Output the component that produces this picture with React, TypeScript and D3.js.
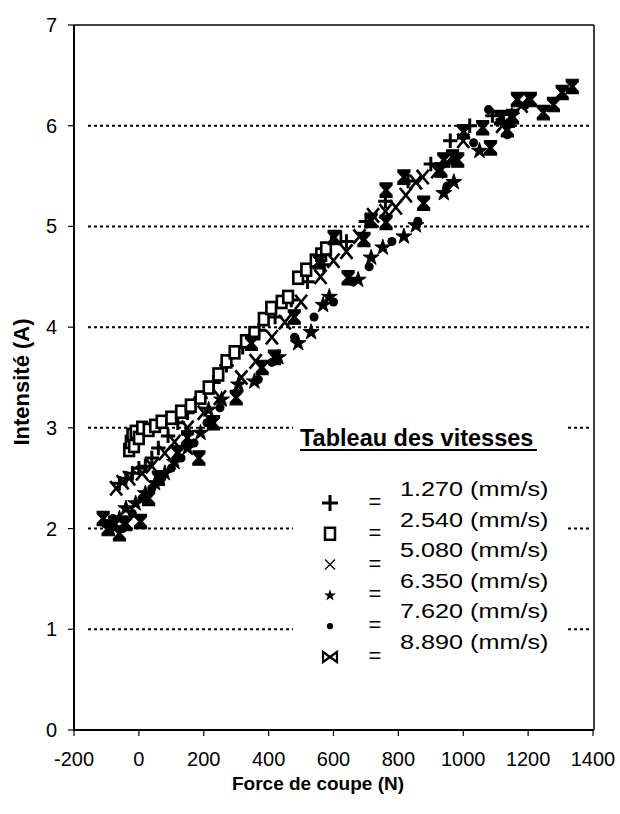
import React from "react";
import * as d3 from "d3";

const xTicks = [-200, 0, 200, 400, 600, 800, 1000, 1200, 1400];
const yTicks = [0, 1, 2, 3, 4, 5, 6, 7];
const gridValues = [1, 2, 3, 4, 5, 6];

const speedLabels = ["1.270 (mm/s)", "2.540 (mm/s)", "5.080 (mm/s)", "6.350 (mm/s)", "7.620 (mm/s)", "8.890 (mm/s)"];
const markerKinds = ["plus", "square", "cross", "star", "dot", "hourglass"];

// [Force (N), Intensité (A)]
const s1270: [number, number][] = [
  [-60, 2.45], [-40, 2.5], [-20, 2.55], [0, 2.6], [20, 2.62], [40, 2.7], [60, 2.8], [90, 2.92], [120, 3.05],
  [150, 3.15], [190, 3.3], [230, 3.45], [270, 3.62], [320, 3.8], [370, 3.97], [420, 4.1], [470, 4.27],
  [520, 4.45], [570, 4.62], [640, 4.85], [700, 5.05], [760, 5.25], [830, 5.45], [900, 5.62], [960, 5.85],
  [1020, 6.0], [1090, 6.1],
];
const s2540: [number, number][] = [
  [-30, 2.78], [-25, 2.86], [-20, 2.93], [-15, 2.82], [-10, 2.96], [0, 2.9], [10, 3.0], [30, 2.98], [50, 3.02],
  [70, 3.06], [100, 3.1], [130, 3.16], [160, 3.22], [190, 3.3], [215, 3.4], [245, 3.53], [270, 3.66],
  [295, 3.75], [330, 3.86], [356, 3.94], [385, 4.08], [408, 4.19], [440, 4.25], [460, 4.3], [491, 4.49],
  [516, 4.57], [545, 4.66], [562, 4.72], [577, 4.78], [608, 4.89], [1140, 6.05],
];
const s5080: [number, number][] = [
  [-70, 2.4], [-50, 2.46], [-30, 2.5], [10, 2.55], [40, 2.62], [80, 2.75], [110, 2.86], [150, 3.0], [200, 3.15],
  [250, 3.3], [316, 3.5], [360, 3.66], [410, 3.9], [450, 4.05], [500, 4.25], [560, 4.5], [600, 4.66],
  [640, 4.75], [680, 4.9], [722, 5.11], [760, 5.15], [792, 5.19], [823, 5.31], [854, 5.44], [875, 5.49],
  [920, 5.55], [1000, 5.85], [1120, 6.0], [1180, 6.2],
];
const s6350: [number, number][] = [
  [-90, 2.0], [-60, 2.1], [-40, 2.2], [-10, 2.25], [20, 2.35], [50, 2.45], [80, 2.55], [110, 2.66], [150, 2.8],
  [190, 2.95], [215, 3.18], [255, 3.28], [307, 3.43], [356, 3.46], [430, 3.7], [491, 3.84], [531, 3.95],
  [568, 4.22], [587, 4.3], [676, 4.47], [716, 4.69], [752, 4.79], [817, 4.9], [854, 5.01], [940, 5.33],
  [971, 5.44], [1050, 5.75], [1150, 6.1],
];
const s7620: [number, number][] = [
  [-100, 2.05], [-80, 2.1], [-50, 2.0], [-20, 2.15], [10, 2.3], [40, 2.4], [70, 2.5], [100, 2.6], [130, 2.7],
  [170, 2.85], [210, 3.05], [250, 3.2], [300, 3.35], [368, 3.48], [410, 3.65], [480, 3.9], [540, 4.1],
  [600, 4.25], [660, 4.45], [710, 4.6], [780, 4.85], [860, 5.05], [950, 5.4], [1032, 5.83], [1078, 6.16],
  [1136, 5.91], [1190, 6.2],
];
const s8890: [number, number][] = [
  [-110, 2.1], [-95, 2.0], [-75, 2.05], [-60, 1.95], [-40, 2.05], [5, 2.07], [30, 2.3], [60, 2.5], [120, 2.75],
  [150, 2.9], [185, 2.7], [230, 3.05], [300, 3.3], [347, 3.84], [380, 3.6], [418, 3.7], [479, 4.1], [556, 4.65],
  [602, 4.89], [645, 4.49], [694, 4.87], [716, 5.06], [762, 5.04], [762, 5.36], [817, 5.49], [878, 5.23],
  [931, 5.56], [940, 5.66], [967, 5.69], [983, 5.66], [1001, 5.94], [1060, 5.98], [1084, 5.78], [1115, 6.08],
  [1136, 5.96], [1152, 6.09], [1167, 6.26], [1207, 6.26], [1247, 6.13], [1278, 6.21], [1305, 6.33], [1336, 6.39],
];
const seriesData = [s1270, s2540, s5080, s6350, s7620, s8890];

const FONT = "'Liberation Sans', Arial, Helvetica, sans-serif";

function Marker({ kind, x, y, k = 1.2 }: { kind: string; x: number; y: number; k?: number }) {
  const t = `translate(${x},${y}) scale(${k})`;
  switch (kind) {
    case "plus":
      return <path transform={t} d="M-6,0H6M0,-6V6" stroke="#000" strokeWidth={2.5} fill="none" />;
    case "square":
      return <rect transform={t} x={-4} y={-5} width={8} height={10} stroke="#000" strokeWidth={2.2} fill="#fff" />;
    case "cross":
      return <path transform={t} d="M-5,-6L5,6M5,-6L-5,6" stroke="#000" strokeWidth={2.2} fill="none" />;
    case "star":
      return <path transform={t} d={d3.symbol(d3.symbolStar, 55)() as string} fill="#000" stroke="#000" strokeWidth={0.8} />;
    case "dot":
      return <path transform={t} d={d3.symbol(d3.symbolCircle, 45)() as string} fill="#000" />;
    default:
      return <path transform={t} d="M-5,-6H5V-4L1.2,0L5,4V6H-5V4L-1.2,0L-5,-4Z" fill="#000" stroke="#000" strokeWidth={1} />;
  }
}

export default function App() {
  const x = d3.scaleLinear().domain([-200, 1400]).range([74, 593]);
  const y = d3.scaleLinear().domain([0, 7]).range([730, 25]);
  const legendTextY = (i: number) => 489 + i * 30.6;
  const legendSymY = (i: number) => 503 + i * 30.8;

  return (
    <svg width={620} height={814} style={{ position: "absolute", left: 0, top: 0, background: "#fff" }} fontFamily={FONT}>
      <rect width={620} height={814} fill="#fff" />
      {/* gridlines */}
      {gridValues.map((v) => (
        <line key={v} x1={88} x2={592} y1={y(v)} y2={y(v)} stroke="#000" strokeWidth={2} strokeDasharray="3,3" />
      ))}
      {/* frame */}
      <line x1={74} x2={594} y1={y(7)} y2={y(7)} stroke="#000" strokeWidth={1.5} />
      <line x1={594} x2={594} y1={y(7)} y2={y(0)} stroke="#000" strokeWidth={1.5} />
      <line x1={74} x2={74} y1={y(7)} y2={y(0) + 1} stroke="#000" strokeWidth={2} />
      <line x1={73} x2={594} y1={y(0)} y2={y(0)} stroke="#000" strokeWidth={2} />
      {/* y ticks */}
      {yTicks.map((v) => (
        <g key={v}>
          <line x1={68} x2={74} y1={y(v)} y2={y(v)} stroke="#000" strokeWidth={1.2} />
          <text x={57} y={y(v) + 7} textAnchor="end" fontSize={20}>{v}</text>
        </g>
      ))}
      {/* x ticks */}
      {xTicks.map((v) => (
        <g key={v}>
          <line x1={x(v)} x2={x(v)} y1={y(0)} y2={y(0) + 6} stroke="#000" strokeWidth={1.2} />
          <text x={x(v)} y={766} textAnchor="middle" fontSize={20}>{v}</text>
        </g>
      ))}
      {/* data */}
      {seriesData.map((pts, si) =>
        pts.map((p, i) => <Marker key={`${si}-${i}`} kind={markerKinds[si]} x={x(p[0])} y={y(p[1])} />)
      )}
      {/* legend */}
      <rect x={293} y={421} width={273} height={262} fill="#fff" />
      <text x={300} y={446} fontSize={23.5} fontWeight="bold">Tableau des vitesses</text>
      <line x1={300} x2={537} y1={450} y2={450} stroke="#000" strokeWidth={1.8} />
      {speedLabels.map((lab, i) => (
        <g key={lab}>
          <text transform={`translate(400,${legendTextY(i) + 7}) scale(1.2,1)`} fontSize={21}>{lab}</text>
          <text x={375} y={legendSymY(i) + 6} textAnchor="middle" fontSize={22}>=</text>
        </g>
      ))}
      <path transform={`translate(330,${legendSymY(0)})`} d="M-8,0H8M0,-8V8" stroke="#000" strokeWidth={3} fill="none" />
      <rect x={325} y={legendSymY(1) - 6} width={10} height={12} stroke="#000" strokeWidth={2.5} fill="#fff" />
      <path transform={`translate(330,${legendSymY(2)})`} d="M-5,-5L5,5M5,-5L-5,5" stroke="#000" strokeWidth={1.4} fill="none" />
      <path transform={`translate(330,${legendSymY(3)})`} d={d3.symbol(d3.symbolStar, 45)() as string} fill="#000" />
      <path transform={`translate(330,${legendSymY(4)})`} d={d3.symbol(d3.symbolCircle, 30)() as string} fill="#000" />
      <path transform={`translate(330,${legendSymY(5)})`} d="M-7,-5L7,5V-5L-7,5Z" fill="none" stroke="#000" strokeWidth={2.2} />
      {/* axis titles */}
      <text x={318} y={790} textAnchor="middle" fontSize={19} fontWeight="bold">Force de coupe (N)</text>
      <text transform="translate(29,382) rotate(-90)" textAnchor="middle" fontSize={22} fontWeight="bold">Intensité (A)</text>
    </svg>
  );
}
